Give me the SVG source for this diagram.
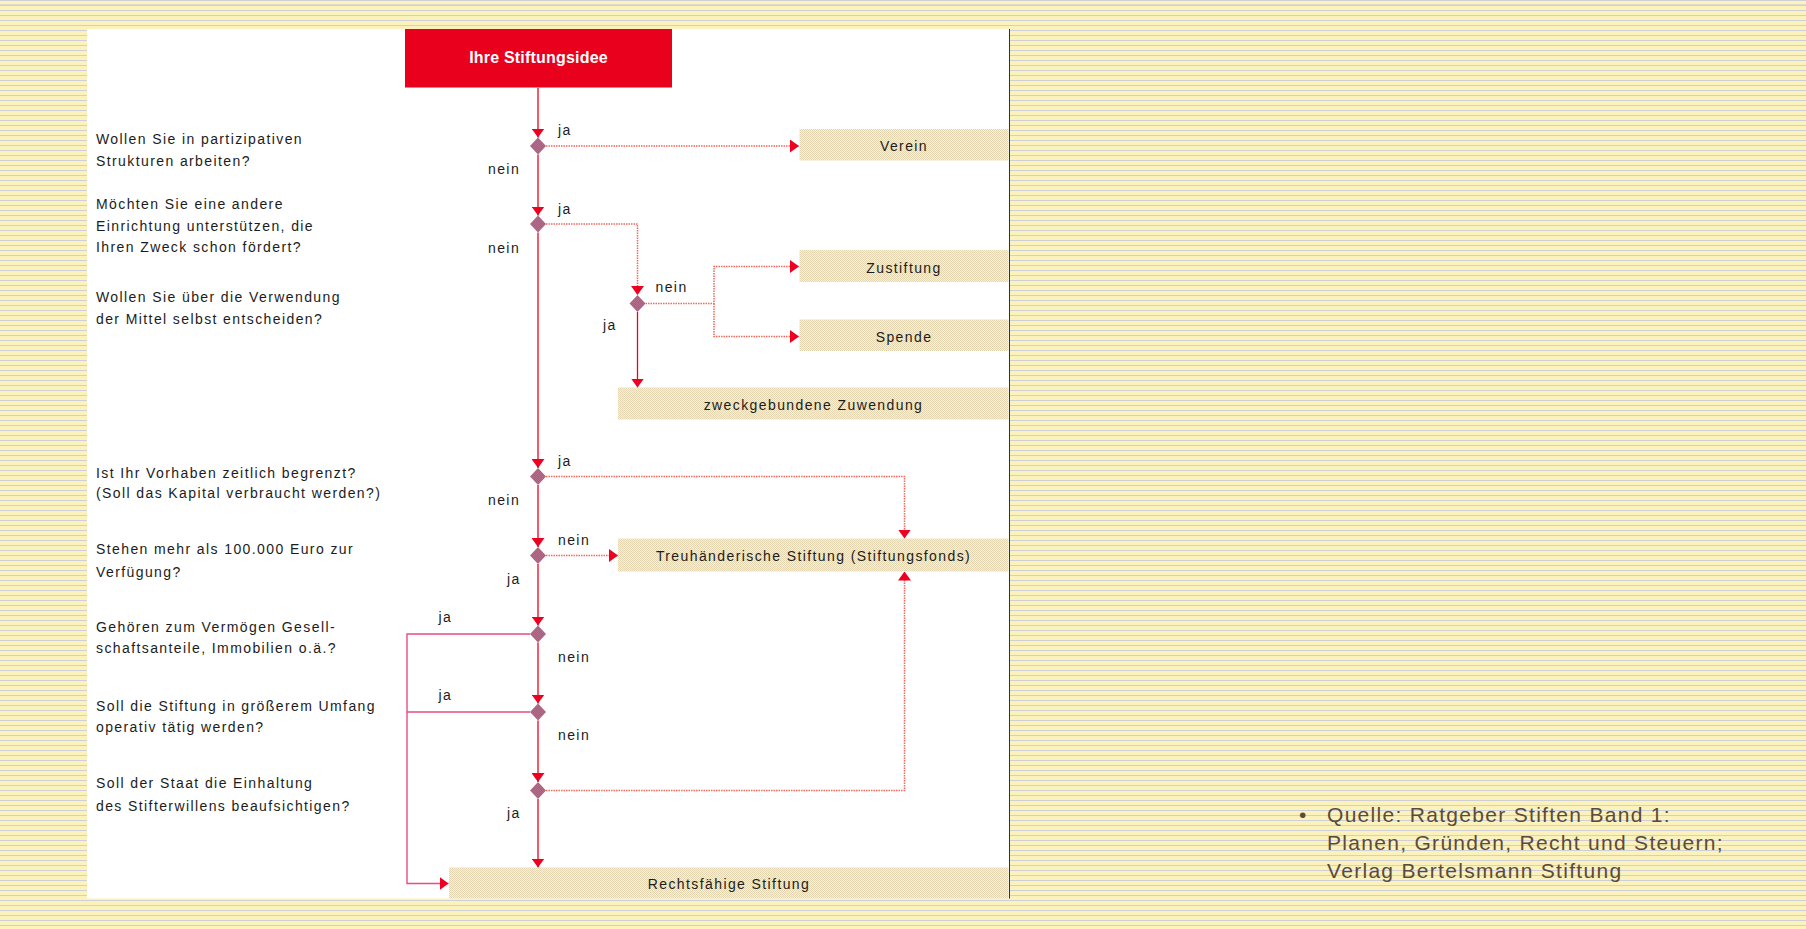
<svg xmlns="http://www.w3.org/2000/svg" width="1806" height="929" viewBox="0 0 1806 929">
<defs>
  <pattern id="stripes" width="10" height="5" patternUnits="userSpaceOnUse">
    <rect width="10" height="5" fill="#fcf2bb"/>
    <rect y="0" width="10" height="1" fill="#cfcfd8"/>
  </pattern>
  <pattern id="boxfill" width="2" height="2" patternUnits="userSpaceOnUse">
    <rect width="2" height="2" fill="#f3efe6"/>
    <rect width="1" height="1" fill="#e4d6b0"/>
    <rect x="1" y="1" width="1" height="1" fill="#d6d8dc"/>
  </pattern>
  <pattern id="diafill" width="2" height="2" patternUnits="userSpaceOnUse">
    <rect width="2" height="2" fill="#4e9364"/>
    <rect width="1" height="1" fill="#b06c88"/>
    <rect x="1" y="1" width="1" height="1" fill="#b06c88"/>
  </pattern>
  <marker id="arr" markerUnits="userSpaceOnUse" markerWidth="10" markerHeight="13" refX="9" refY="6.5" orient="auto">
    <path d="M0,0 L9,6.5 L0,13 z" fill="#ee0020"/>
  </marker>
  <style>
    .q { font-family: "Liberation Sans", Arial, sans-serif; font-size: 14px; letter-spacing: 1.4px; fill: #1c1c1c; }
    .lbl { font-family: "Liberation Sans", Arial, sans-serif; font-size: 14px; letter-spacing: 1.4px; fill: #1c1c1c; }
    .bt { font-family: "Liberation Sans", Arial, sans-serif; font-size: 14px; letter-spacing: 1.4px; fill: #1c1c1c; text-anchor: middle; }
    .box { fill: url(#boxfill); }
    .dia { fill: url(#diafill); }
    .main { fill: none; stroke: #ee0020; stroke-width: 1.3; }
    .dot { fill: none; stroke: #f2685c; stroke-width: 1.5; stroke-dasharray: 1.5 1; }
    .pink { fill: none; stroke: #ea4a86; stroke-width: 1.4; }
    .src { font-family: "Liberation Sans", Arial, sans-serif; font-size: 21px; letter-spacing: 1.3px; fill: #5b4b3b; }
  </style>
</defs>

<rect width="1806" height="929" fill="url(#stripes)"/>
<rect x="0" y="4" width="1806" height="2" fill="#cfcfcf" opacity="0.6"/>
<rect x="87" y="29" width="922" height="869.5" fill="#ffffff"/>
<line x1="1009.5" y1="29" x2="1009.5" y2="898.5" stroke="#333333" stroke-width="1"/>

<g id="questions">
  <text class="q" x="96" y="144">Wollen Sie in partizipativen</text>
  <text class="q" x="96" y="165.7">Strukturen arbeiten?</text>
  <text class="q" x="96" y="209">Möchten Sie eine andere</text>
  <text class="q" x="96" y="230.7">Einrichtung unterstützen, die</text>
  <text class="q" x="96" y="252.3">Ihren Zweck schon fördert?</text>
  <text class="q" x="96" y="302.3">Wollen Sie über die Verwendung</text>
  <text class="q" x="96" y="324">der Mittel selbst entscheiden?</text>
  <text class="q" x="96" y="477.5">Ist Ihr Vorhaben zeitlich begrenzt?</text>
  <text class="q" x="96" y="498">(Soll das Kapital verbraucht werden?)</text>
  <text class="q" x="96" y="554.3">Stehen mehr als 100.000 Euro zur</text>
  <text class="q" x="96" y="576.5">Verfügung?</text>
  <text class="q" x="96" y="631.7">Gehören zum Vermögen Gesell-</text>
  <text class="q" x="96" y="653.3">schaftsanteile, Immobilien o.ä.?</text>
  <text class="q" x="96" y="710.7">Soll die Stiftung in größerem Umfang</text>
  <text class="q" x="96" y="731.7">operativ tätig werden?</text>
  <text class="q" x="96" y="788.3">Soll der Staat die Einhaltung</text>
  <text class="q" x="96" y="810.7">des Stifterwillens beaufsichtigen?</text>
</g>

<g id="connectors">
  <path class="main" d="M538,88 V137.5" marker-end="url(#arr)"/>
  <path class="main" d="M538,154.5 V215.5" marker-end="url(#arr)"/>
  <path class="main" d="M538,232.5 V468" marker-end="url(#arr)"/>
  <path class="main" d="M538,485 V547" marker-end="url(#arr)"/>
  <path class="main" d="M538,564 V625.5" marker-end="url(#arr)"/>
  <path class="main" d="M538,642.5 V703.5" marker-end="url(#arr)"/>
  <path class="main" d="M538,720.5 V782" marker-end="url(#arr)"/>
  <path class="main" d="M538,799 V867.5" marker-end="url(#arr)"/>

  <path class="dot" d="M546,146 H799" marker-end="url(#arr)"/>
  <path class="dot" d="M546,224 H637.5 V295" marker-end="url(#arr)"/>
  <path class="dot" d="M645.5,303.5 H714 V266.5 H799" marker-end="url(#arr)"/>
  <path class="dot" d="M714,303.5 V336.5 H799" marker-end="url(#arr)"/>
  <path class="main" d="M637.5,312 V387.5" marker-end="url(#arr)"/>
  <path class="dot" d="M546,476.5 H904.5 V538.5" marker-end="url(#arr)"/>
  <path class="dot" d="M546,555.5 H618" marker-end="url(#arr)"/>
  <path class="pink" d="M530,634 H407 V883.5 H448.5" marker-end="url(#arr)"/>
  <path class="pink" d="M530,712 H407"/>
  <path class="dot" d="M546,790.5 H904.5 V571.5" marker-end="url(#arr)"/>

  <text class="lbl" x="558" y="135">ja</text>
  <text class="lbl" x="488" y="174">nein</text>
  <text class="lbl" x="558" y="214">ja</text>
  <text class="lbl" x="488" y="252.5">nein</text>
  <text class="lbl" x="655.5" y="291.5">nein</text>
  <text class="lbl" x="603" y="330">ja</text>
  <text class="lbl" x="558" y="466">ja</text>
  <text class="lbl" x="488" y="505">nein</text>
  <text class="lbl" x="558" y="545">nein</text>
  <text class="lbl" x="507" y="584">ja</text>
  <text class="lbl" x="438.5" y="621.5">ja</text>
  <text class="lbl" x="558" y="661.5">nein</text>
  <text class="lbl" x="438.5" y="700">ja</text>
  <text class="lbl" x="558" y="740">nein</text>
  <text class="lbl" x="507" y="818">ja</text>
</g>

<g id="start">
  <rect x="405" y="29" width="267" height="58.5" fill="#e8001c"/>
  <text x="538.5" y="62.7" font-family="Liberation Sans, Arial, sans-serif" font-size="16" font-weight="bold" letter-spacing="0.2" fill="#ffffff" text-anchor="middle">Ihre Stiftungsidee</text>
</g>

<g id="d1"><path class="dia" d="M538,137.5 L546,146 L538,154.5 L530,146 z"/></g>
<g id="d2"><path class="dia" d="M538,215.5 L546,224 L538,232.5 L530,224 z"/></g>
<g id="d3"><path class="dia" d="M637.5,295 L645.5,303.5 L637.5,312 L629.5,303.5 z"/></g>
<g id="d4"><path class="dia" d="M538,468 L546,476.5 L538,485 L530,476.5 z"/></g>
<g id="d5"><path class="dia" d="M538,547 L546,555.5 L538,564 L530,555.5 z"/></g>
<g id="d6"><path class="dia" d="M538,625.5 L546,634 L538,642.5 L530,634 z"/></g>
<g id="d7"><path class="dia" d="M538,703.5 L546,712 L538,720.5 L530,712 z"/></g>
<g id="d8"><path class="dia" d="M538,782 L546,790.5 L538,799 L530,790.5 z"/></g>

<g id="verein">
  <rect class="box" x="799.5" y="129" width="209" height="31.5"/>
  <text class="bt" x="904" y="151">Verein</text>
</g>
<g id="zustiftung">
  <rect class="box" x="799.5" y="250" width="209" height="32"/>
  <text class="bt" x="904" y="273">Zustiftung</text>
</g>
<g id="spende">
  <rect class="box" x="799.5" y="319.5" width="209" height="31.5"/>
  <text class="bt" x="904" y="341.5">Spende</text>
</g>
<g id="zweck">
  <rect class="box" x="618" y="387.5" width="390.5" height="32"/>
  <text class="bt" x="813.5" y="410">zweckgebundene Zuwendung</text>
</g>
<g id="treuhand">
  <rect class="box" x="618" y="538.5" width="390.5" height="33"/>
  <text class="bt" x="813.5" y="560.5">Treuhänderische Stiftung (Stiftungsfonds)</text>
</g>
<g id="rechtsfaehig">
  <rect class="box" x="449" y="867.5" width="559.5" height="31"/>
  <text class="bt" x="729" y="889">Rechtsfähige Stiftung</text>
</g>

<g id="source">
  <text class="src" x="1299" y="821.7">•</text>
  <text class="src" x="1327" y="821.7">Quelle: Ratgeber Stiften Band 1:</text>
  <text class="src" x="1327" y="849.5">Planen, Gründen, Recht und Steuern;</text>
  <text class="src" x="1327" y="877.5">Verlag Bertelsmann Stiftung</text>
</g>
</svg>
